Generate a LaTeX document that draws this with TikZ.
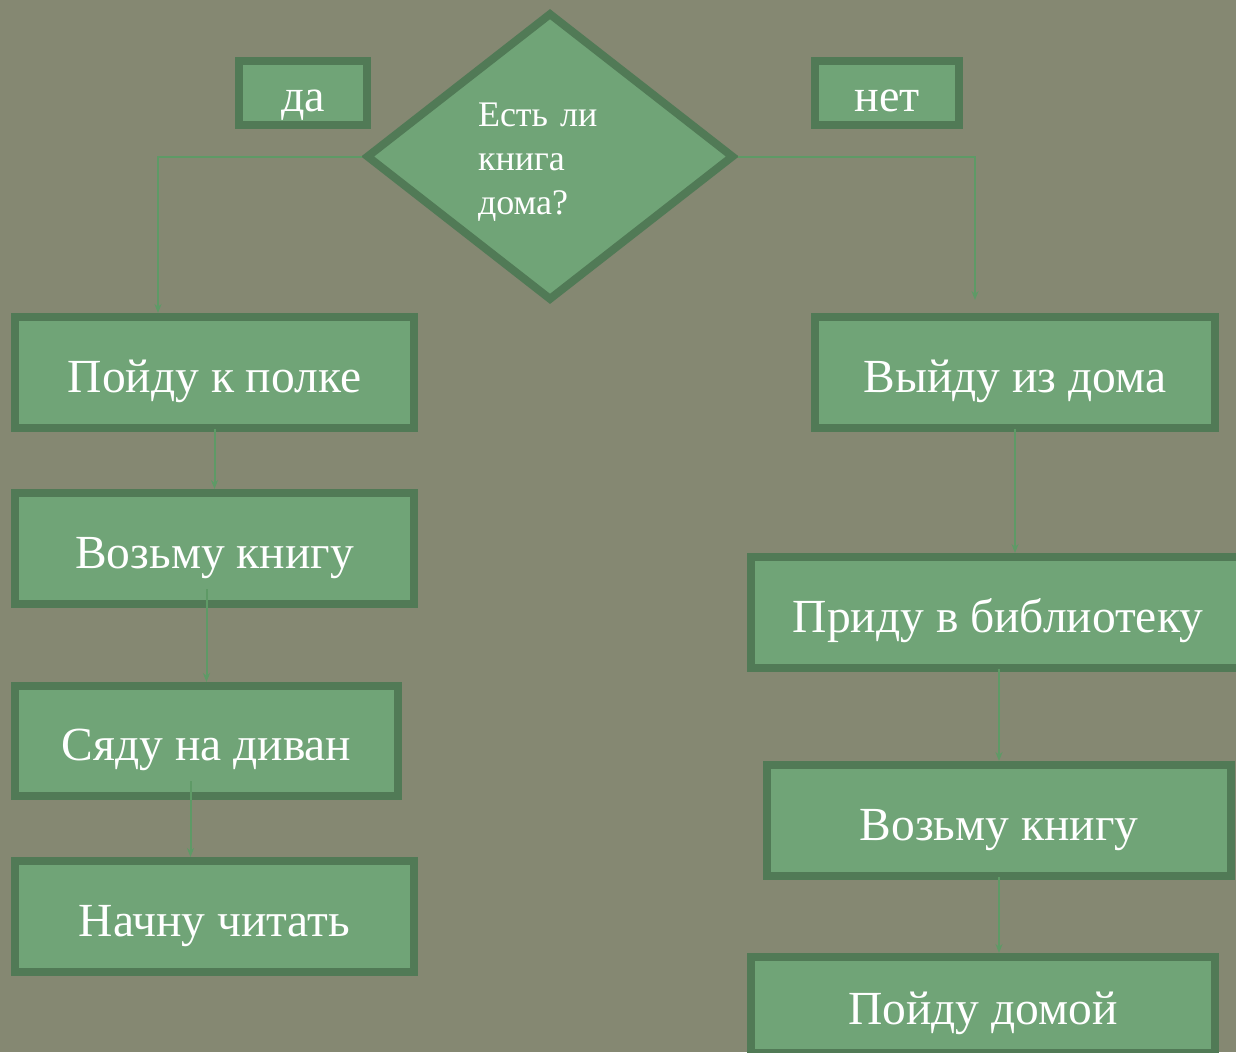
\documentclass[tikz,border=0pt]{standalone}
\usepackage{fontspec}
\setmainfont{Liberation Serif}
\usetikzlibrary{shapes.geometric,arrows.meta}
\definecolor{fon}{HTML}{858872}
\definecolor{zal}{HTML}{70A477}
\definecolor{kant}{HTML}{517A56}
\definecolor{strel}{HTML}{5E9A66}
\begin{document}
\begin{tikzpicture}[x=1pt,y=-1pt,
	khoi/.style={draw=kant,fill=zal,line width=8pt,text=white,inner sep=0pt,
		text height=42pt,text depth=3pt,font=\fontsize{47.5}{52}\selectfont},
	nhan/.style={khoi,text height=40pt,font=\fontsize{46}{50}\selectfont},
	noi/.style={draw=strel,line width=2pt,-{Stealth[length=9pt,width=7pt]}}]
	\fill[fon] (0,0) rectangle (1236,1052);
	\useasboundingbox (0,0) rectangle (1236,1052);
	% cac khoi
	\foreach \ten/\x/\y/\w/\h/\t in {b1/214.5/372.5/399/111/Пойду к полке,
		b2/214.5/548.5/399/111/Возьму книгу, b3/206.5/741/383/110/Сяду на диван,
		b4/214.5/916.5/399/111/Начну читать, r1/1015/372.5/400/111/Выйду из дома,
		r2/998/612.5/494/111/Приду в библиотеку, r3/999/820.5/464/111/Возьму книгу,
		r4/983/1005/464/96/Пойду домой}{
		\node[khoi,minimum width=\w,minimum height=\h] (\ten) at (\x,\y) {\t};
	}
	\node[nhan,minimum width=128,minimum height=64] (da) at (303,92.5) {да};
	\node[nhan,minimum width=144,minimum height=64] (net) at (887,92.5) {нет};
	\node[khoi,diamond,minimum width=368,minimum height=288,text width=144,align=left,
		text height=,text depth=,font=\fontsize{36}{44}\selectfont] (dia) at (550,156.5)
		{\rule{0pt}{35pt}Есть ли\\книга\\дома?};
	% mui ten
	\coordinate (rin) at ([xshift=-40pt,yshift=13pt]r1.north);
	\draw[noi] (dia.west) -| ([xshift=-56.5pt]b1.north);
	\draw[noi] (dia.east) -| (rin);
	\draw[noi] ([yshift=3pt]b1.south) -- (b2.north);
	\draw[noi] ([yshift=19pt]b3.north |- b2.south) -- (b3.north);
	\draw[noi] ([xshift=-16pt,yshift=19pt]b3.south) -- ([xshift=-24pt]b4.north);
	\draw[noi] ([yshift=3pt]r1.south) -- (r2.north -| r1.south);
	\draw[noi] ([yshift=3pt]r3.north |- r2.south) -- (r3.north);
	\draw[noi] ([yshift=3pt]r3.south) -- (r3.south |- r4.north);
\end{tikzpicture}
\end{document}
